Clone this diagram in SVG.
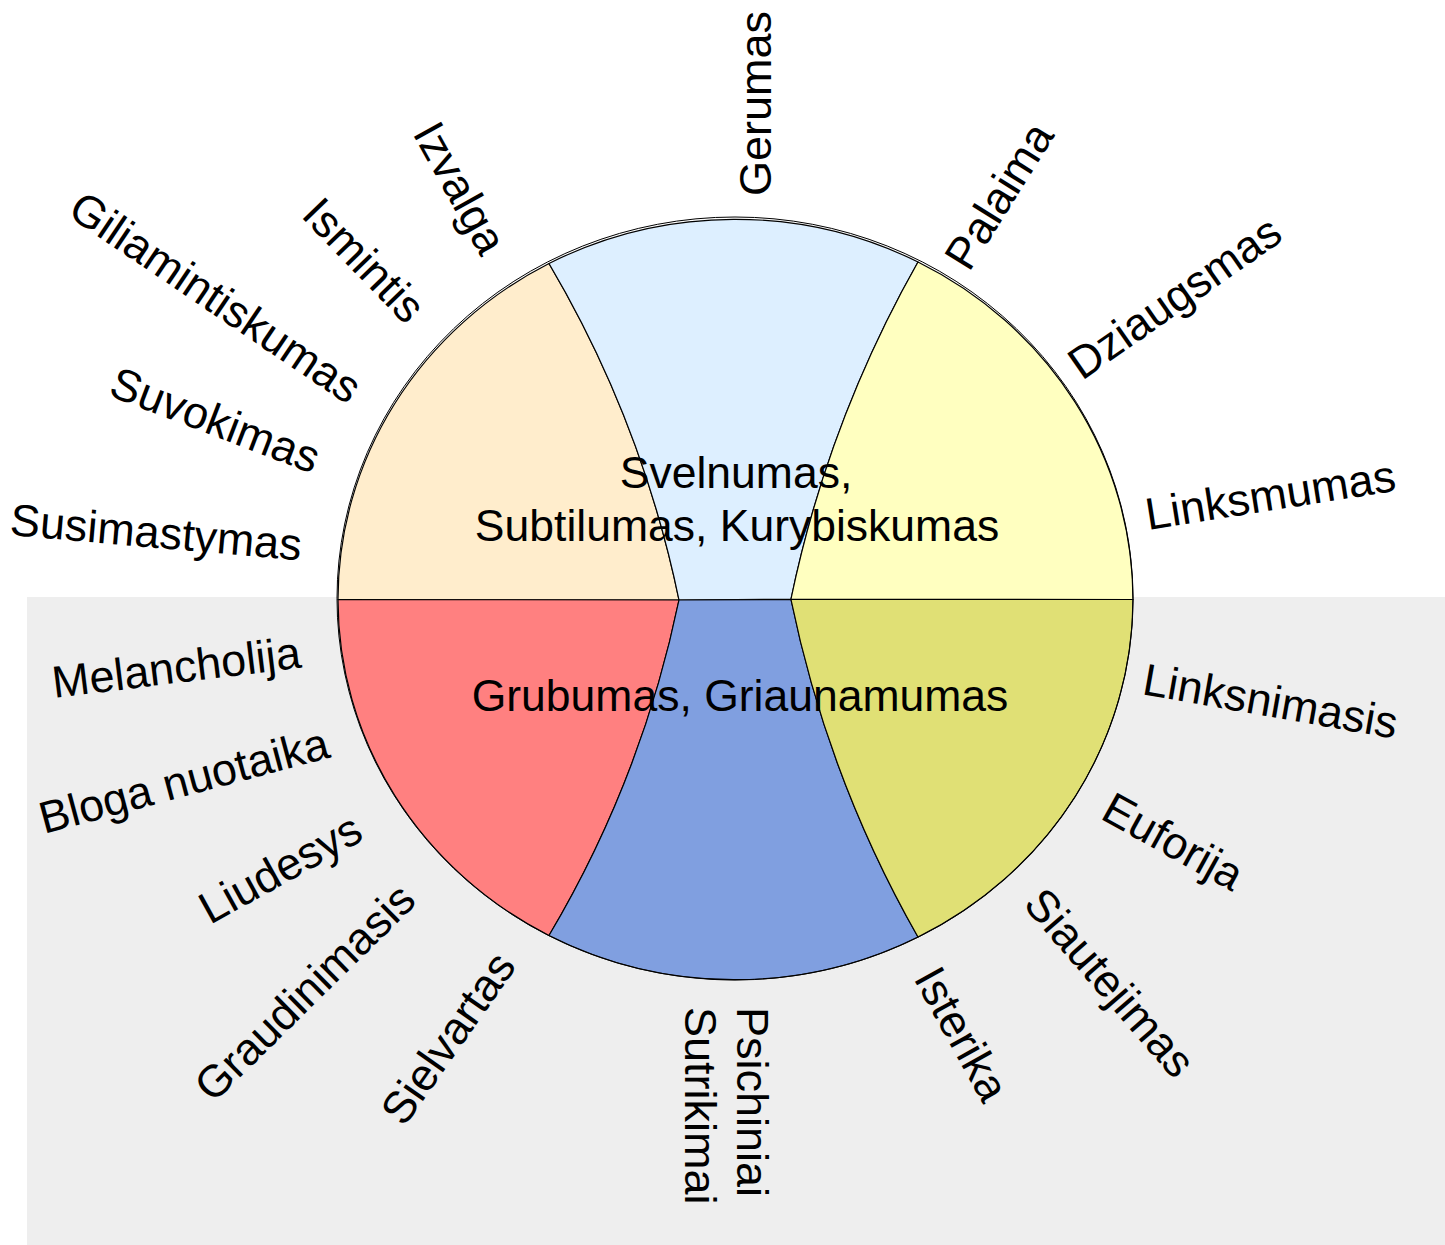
<svg xmlns="http://www.w3.org/2000/svg" width="1445" height="1245" viewBox="0 0 1445 1245">
<style>
.seg{stroke:#000;stroke-width:1.2;stroke-linejoin:round}
.lbl{font-family:"Liberation Sans",Arial,Helvetica,sans-serif;font-size:45px;fill:#000}
.ctr{font-family:"Liberation Sans",Arial,Helvetica,sans-serif;font-size:44.5px;fill:#000;text-anchor:middle}
</style>
<rect x="0" y="0" width="1445" height="1245" fill="#ffffff"/>
<rect id="lower-band" x="27" y="597" width="1418" height="648" fill="#eeeeee"/>
<g id="wheel">
  <g id="seg-orange"><path class="seg" fill="#ffedcc" d="M 338 599.5 A 397.5 380.5 0 0 1 549 263.5 Q 642 421 679 600 Z"/></g>
  <g id="seg-lightblue"><path class="seg" fill="#ddefff" d="M 549 263.5 A 397.5 380.5 0 0 1 918 262 Q 828 421 791 599 L 679 600 Q 642 421 549 263.5 Z"/></g>
  <g id="seg-yellow"><path class="seg" fill="#ffffc0" d="M 918 262 A 397.5 380.5 0 0 1 1133 599.5 L 791 599 Q 828 421 918 262 Z"/></g>
  <g id="seg-red"><path class="seg" fill="#ff8080" d="M 338 599.5 L 679 600 Q 642 779 549 935.5 A 397.5 380.5 0 0 1 338 599.5 Z"/></g>
  <g id="seg-blue"><path class="seg" fill="#809fe0" d="M 679 600 L 791 599.5 Q 828 779 918 937 A 397.5 380.5 0 0 1 549 935.5 Q 642 779 679 600 Z"/></g>
  <g id="seg-olive"><path class="seg" fill="#e0e075" d="M 791 599.5 L 1133 599.5 A 397.5 380.5 0 0 1 918 937 Q 828 779 791 599.5 Z"/></g>
  <ellipse id="outline" cx="735" cy="598.5" rx="398" ry="381.5" fill="none" stroke="#000" stroke-width="1"/>
</g>
<g id="center-text">
  <text class="ctr" x="736" y="488">Svelnumas,</text>
  <text class="ctr" x="737" y="541">Subtilumas, Kurybiskumas</text>
  <text class="ctr" x="740" y="711">Grubumas, Griaunamumas</text>
</g>
<g id="labels">
  <text class="lbl" transform="translate(771,196) rotate(-90)">Gerumas</text>
  <text class="lbl" transform="translate(969,273) rotate(-58)">Palaima</text>
  <text class="lbl" transform="translate(1082,381) rotate(-35)">Dziaugsmas</text>
  <text class="lbl" transform="translate(1148,530) rotate(-9)">Linksmumas</text>
  <text class="lbl" transform="translate(1141,694) rotate(10)">Linksnimasis</text>
  <text class="lbl" transform="translate(1099,818) rotate(29)">Euforija</text>
  <text class="lbl" transform="translate(1022,905) rotate(49)">Siautejimas</text>
  <text class="lbl" transform="translate(913,978) rotate(61)">Isterika</text>
  <text class="lbl" transform="translate(737,1007) rotate(90)">Psichiniai</text>
  <text class="lbl" transform="translate(685,1007) rotate(90)">Sutrikimai</text>
  <text class="lbl" transform="translate(404,1128) rotate(-55)">Sielvartas</text>
  <text class="lbl" transform="translate(213,1104) rotate(-44.5)">Graudinimasis</text>
  <text class="lbl" transform="translate(210,925) rotate(-29)">Liudesys</text>
  <text class="lbl" transform="translate(44,834) rotate(-15)">Bloga nuotaika</text>
  <text class="lbl" transform="translate(54,698) rotate(-7)">Melancholija</text>
  <text class="lbl" transform="translate(9,535) rotate(5)">Susimastymas</text>
  <text class="lbl" transform="translate(107,395) rotate(21)">Suvokimas</text>
  <text class="lbl" transform="translate(66,215) rotate(34)">Giliamintiskumas</text>
  <text class="lbl" transform="translate(300,216) rotate(46)">Ismintis</text>
  <text class="lbl" transform="translate(412,133) rotate(61)">Izvalga</text>
</g>
</svg>
